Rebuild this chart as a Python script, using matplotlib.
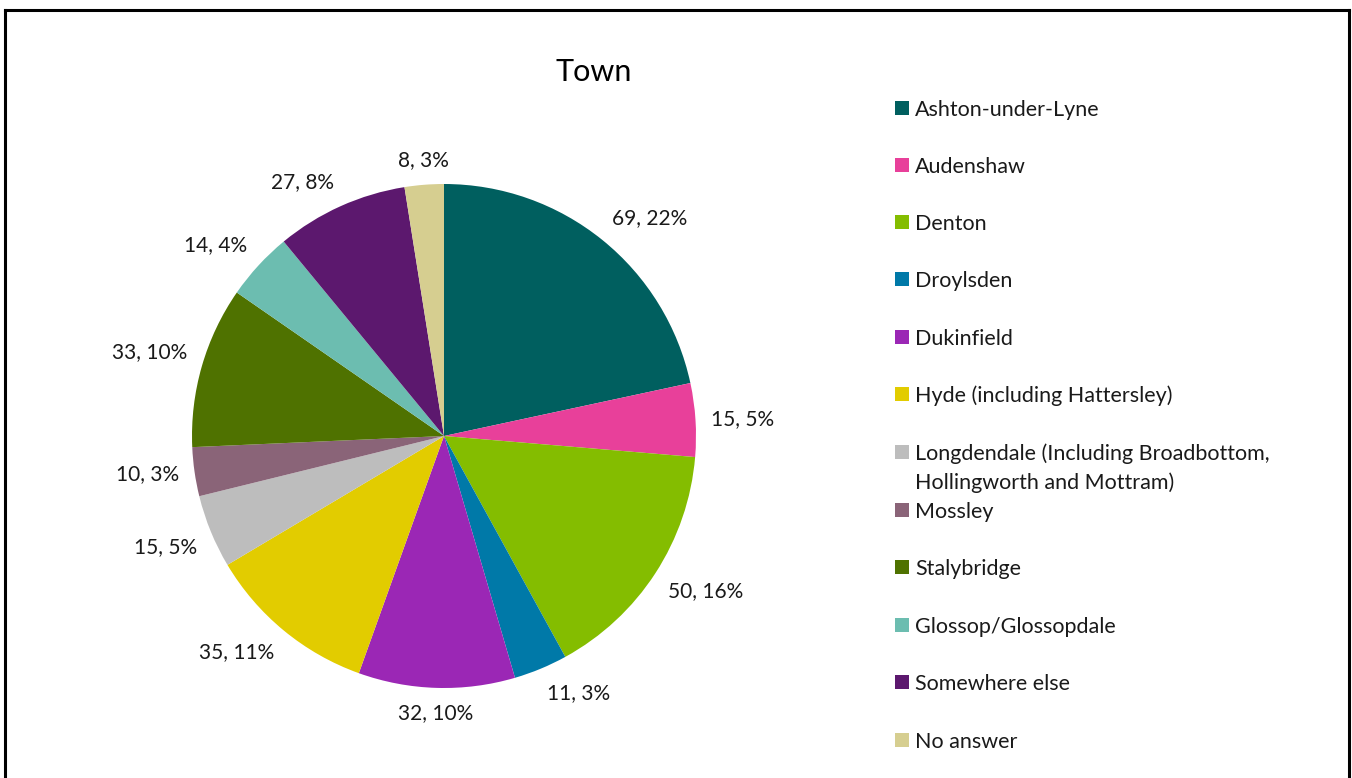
import matplotlib.pyplot as plt
import numpy as np
from matplotlib.patches import Rectangle
from matplotlib.lines import Line2D

towns = [
    "Ashton-under-Lyne",
    "Audenshaw",
    "Denton",
    "Droylsden",
    "Dukinfield",
    "Hyde (including Hattersley)",
    "Longdendale (Including Broadbottom,\nHollingworth and Mottram)",
    "Mossley",
    "Stalybridge",
    "Glossop/Glossopdale",
    "Somewhere else",
    "No answer",
]
counts = [69, 15, 50, 11, 32, 35, 15, 10, 33, 14, 27, 8]
colors = [
    "#005F5F", "#E8409A", "#84BD00", "#0079A8", "#9B27B5", "#E2CC00",
    "#BDBDBD", "#8A6478", "#4F7200", "#6CBDB0", "#5C186E", "#D6CE90",
]

plt.rcParams["font.family"] = ["Lato", "DejaVu Sans"]

W, H = 1352, 778
fig = plt.figure(figsize=(W / 100, H / 100), dpi=100)
fig.patch.set_facecolor("white")

# outer frame (bottom edge runs off the canvas)
frame_kw = dict(color="black", lw=2.2, transform=fig.transFigure)
fig.add_artist(Line2D([5 / W, 5 / W], [0, 1 - 10 / H], **frame_kw))
fig.add_artist(Line2D([5 / W, 1349 / W], [1 - 10 / H, 1 - 10 / H], **frame_kw))
fig.add_artist(Line2D([1349 / W, 1349 / W], [0, 1 - 10 / H], **frame_kw))

fig.text(594 / W, 1 - 72 / H, "Town", fontsize=22, ha="center", va="center")

# pie
cx, cy, r = 444, 436, 252
ax = fig.add_axes([(cx - r) / W, (H - cy - r) / H, 2 * r / W, 2 * r / H])
wedges, _ = ax.pie(counts, colors=colors, startangle=90, counterclock=False,
                   radius=1.0, wedgeprops=dict(linewidth=0))
ax.set_xlim(-1, 1)
ax.set_ylim(-1, 1)
ax.set_aspect("equal")
ax.axis("off")

total = sum(counts)
for w, n in zip(wedges, counts):
    ang = np.deg2rad((w.theta1 + w.theta2) / 2)
    c, s = np.cos(ang), np.sin(ang)
    ha = "left" if c > 0.1 else ("right" if c < -0.1 else "center")
    va = "bottom" if s > 0.2 else ("top" if s < -0.2 else "center")
    d = 1.06
    ax.text(d * c, d * s, f"{n}, {n / total:.0%}", ha=ha, va=va,
            fontsize=15, color="#1a1a1a", clip_on=False)

# legend
leg_y = [108, 165, 222, 279, 337, 394, 452, 510, 567, 625, 682, 740]
for name, col, y in zip(towns, colors, leg_y):
    fig.add_artist(Rectangle((895 / W, 1 - (y + 7) / H), 14 / W, 14 / H,
                             facecolor=col, edgecolor="none",
                             transform=fig.transFigure))
    for k, line in enumerate(name.split("\n")):
        fig.text(915 / W, 1 - (y + 2 + 29 * k) / H, line, fontsize=15.5,
                 ha="left", va="center", color="#1a1a1a")

fig.savefig("out.png", dpi=100)
